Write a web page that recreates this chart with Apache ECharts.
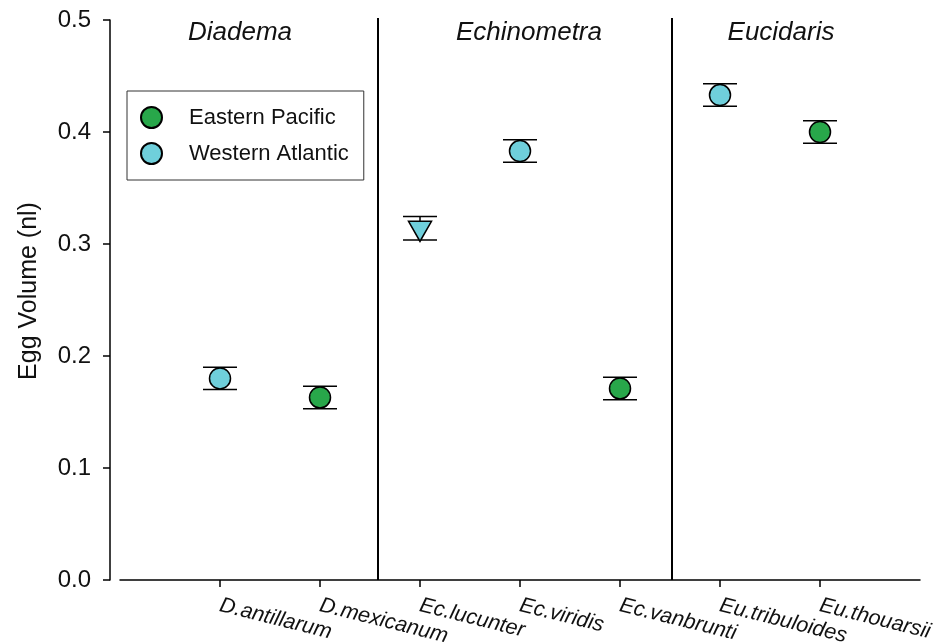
<!DOCTYPE html>
<html>
<head>
<meta charset="utf-8">
<script src="https://cdn.jsdelivr.net/npm/echarts@6/dist/echarts.min.js"></script>
<style>html,body{margin:0;padding:0;background:#fff;}#c{width:935px;height:642px;}</style>
</head>
<body>
<div id="c"></div>
<script>
// ---- data ----
var categories = ['D.antillarum','D.mexicanum','Ec.lucunter','Ec.viridis','Ec.vanbrunti','Eu.tribuloides','Eu.thouarsii'];
var means      = [0.180, 0.163, 0.314, 0.383, 0.171, 0.433, 0.400];
var errors     = [0.010, 0.010, 0.0105, 0.010, 0.010, 0.010, 0.010];
var regions    = ['WA','EP','WA','WA','EP','WA','EP'];
var symbols    = ['circle','circle','triangle','circle','circle','circle','circle'];
var yTicks     = [0.0, 0.1, 0.2, 0.3, 0.4, 0.5];
var groupNames   = ['Diadema','Echinometra','Eucidaris'];
var groupCenters = [1.2, 4.09, 6.61];
var separators   = [2.58, 5.52];

var FONT = 'Liberation Sans, Arial, sans-serif';

function pointsFor(reg) {
  var out = [];
  for (var i = 0; i < categories.length; i++) {
    if (regions[i] !== reg) continue;
    var item = { value: [i + 1, means[i]] };
    if (symbols[i] === 'triangle') {
      item.symbol = 'triangle';
      item.symbolRotate = 180;
      item.symbolSize = [23, 20];
      item.symbolOffset = [0, 3];
    }
    out.push(item);
  }
  return out;
}

var errData = categories.map(function (c, i) { return [i + 1, means[i] - errors[i], means[i] + errors[i]]; });
var catIdx = categories.map(function (c, i) { return i + 1; });

var chart = echarts.init(document.getElementById('c'));
chart.setOption({
  animation: false,
  backgroundColor: '#fff',
  grid: { left: 120, right: 15, top: 20, bottom: 62, containLabel: false, outerBoundsMode: 'none' },
  legend: {
    left: 127, top: 91,
    orient: 'vertical',
    padding: [15, 15, 15, 13],
    itemGap: 13,
    itemWidth: 21, itemHeight: 21,
    borderColor: '#333', borderWidth: 1,
    textStyle: { fontFamily: FONT, fontSize: 22, color: '#111', padding: [0, 0, 0, 22] },
    data: [{ name: 'Eastern Pacific', icon: 'circle' }, { name: 'Western Atlantic', icon: 'circle' }]
  },
  xAxis: {
    type: 'value', min: 0, max: 8, interval: 1,
    axisLine: { show: true, onZero: false, lineStyle: { color: '#000', width: 1.5 } },
    axisTick: { show: true, length: 7, customValues: catIdx, lineStyle: { color: '#000', width: 1.5 } },
    axisLabel: {
      customValues: catIdx,
      rotate: -14, margin: 25,
      fontFamily: FONT, fontSize: 21.5, fontStyle: 'italic', color: '#111',
      formatter: function (v) { var k = Math.round(v) - 1; return categories[k] || ''; }
    },
    splitLine: { show: false }
  },
  yAxis: {
    type: 'value', min: 0, max: 0.5, interval: 0.1, offset: 10,
    name: 'Egg Volume (nl)', nameLocation: 'middle', nameGap: 68, nameRotate: 90,
    nameTextStyle: { fontFamily: FONT, fontSize: 25, color: '#111', padding: [0, 0, 0, 18] },
    axisLine: { show: true, onZero: false, lineStyle: { color: '#000', width: 1.5 } },
    axisTick: { show: true, length: 7, lineStyle: { color: '#000', width: 1.5 } },
    axisLabel: {
      margin: 19, fontFamily: FONT, fontSize: 24, color: '#111',
      customValues: yTicks,
      formatter: function (v) { return v.toFixed(1); }
    },
    splitLine: { show: false }
  },
  series: [
    {
      type: 'custom', name: 'sep', silent: true, z: 1,
      data: separators.map(function (x) { return [x]; }),
      renderItem: function (params, api) {
        var top = api.coord([api.value(0), 0.5]);
        var bot = api.coord([api.value(0), 0]);
        return { type: 'line', shape: { x1: top[0], y1: top[1] - 2, x2: bot[0], y2: bot[1] },
                 style: { stroke: '#000', lineWidth: 2 } };
      }
    },
    {
      type: 'custom', name: 'groups', silent: true, z: 1,
      data: groupCenters.map(function (x, i) { return [x, i]; }),
      renderItem: function (params, api) {
        var p = api.coord([api.value(0), 0.5]);
        return { type: 'text', x: p[0], y: p[1] + 13,
                 style: { text: groupNames[api.value(1)], fontFamily: FONT, fontSize: 26, fontStyle: 'italic',
                          fill: '#111', align: 'center', verticalAlign: 'middle' } };
      }
    },
    {
      type: 'custom', name: 'err', silent: true, z: 2,
      data: errData,
      renderItem: function (params, api) {
        var lo = api.coord([api.value(0), api.value(1)]);
        var hi = api.coord([api.value(0), api.value(2)]);
        var hw = 17, st = { stroke: '#000', lineWidth: 1.5 };
        return { type: 'group', children: [
          { type: 'line', shape: { x1: lo[0], y1: lo[1], x2: hi[0], y2: hi[1] }, style: st },
          { type: 'line', shape: { x1: lo[0] - hw, y1: lo[1], x2: lo[0] + hw, y2: lo[1] }, style: st },
          { type: 'line', shape: { x1: hi[0] - hw, y1: hi[1], x2: hi[0] + hw, y2: hi[1] }, style: st }
        ] };
      }
    },
    {
      type: 'scatter', name: 'Eastern Pacific', z: 3,
      symbol: 'circle', symbolSize: 21,
      itemStyle: { color: '#28a74a', borderColor: '#000', borderWidth: 1.5, opacity: 1 },
      data: pointsFor('EP')
    },
    {
      type: 'scatter', name: 'Western Atlantic', z: 3,
      symbol: 'circle', symbolSize: 21,
      itemStyle: { color: '#6fcfdb', borderColor: '#000', borderWidth: 1.5, opacity: 1 },
      data: pointsFor('WA')
    }
  ]
});
</script>
</body>
</html>
